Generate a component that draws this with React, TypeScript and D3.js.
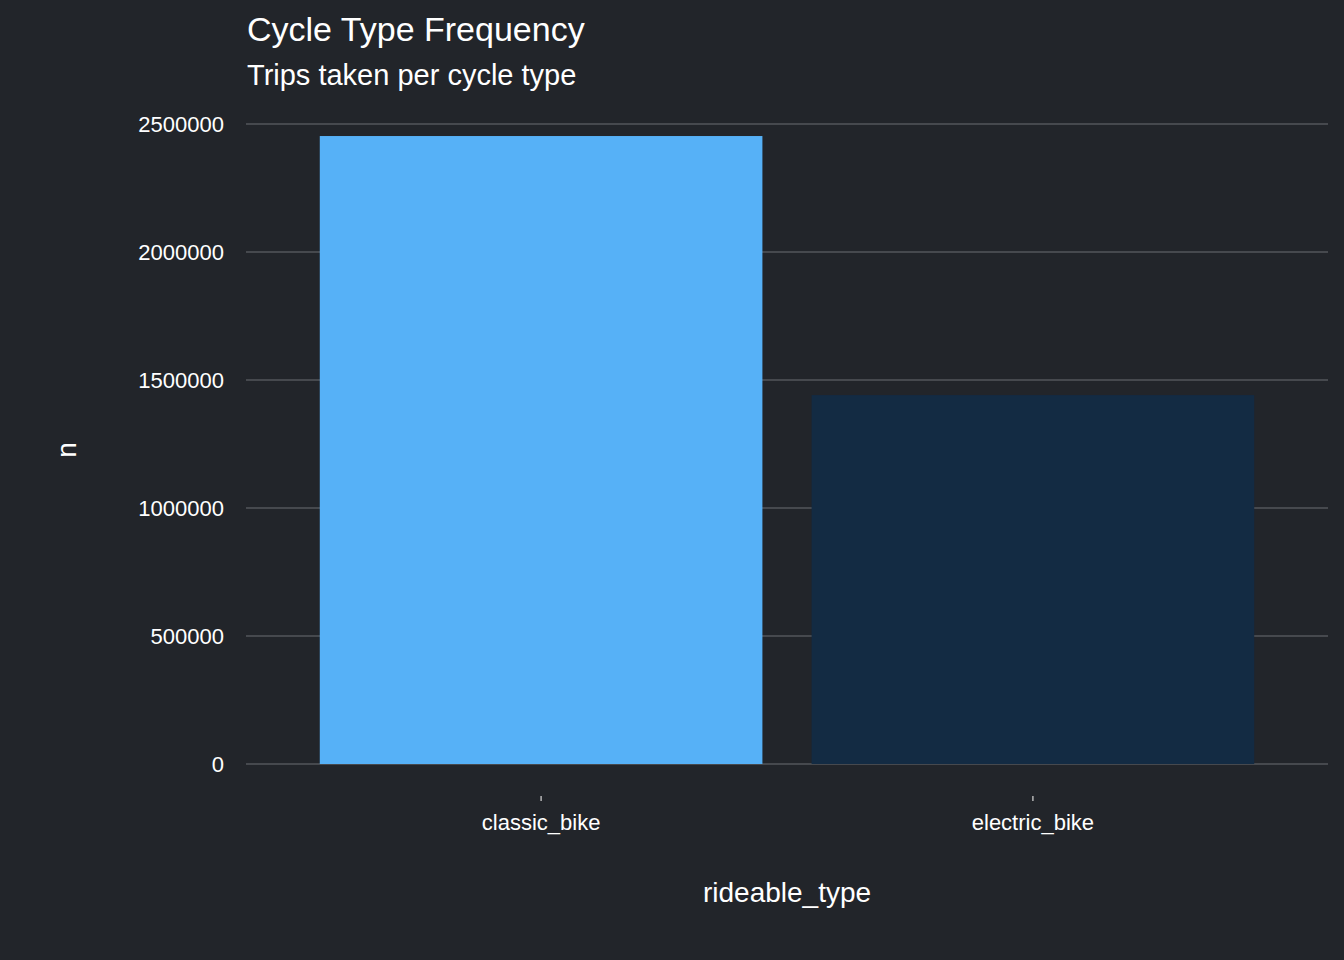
import * as d3 from "d3";
import { useEffect, useRef } from "react";

const categories = ["classic_bike", "electric_bike"];
const counts = [2453000, 1441000];
const barColors = ["#56b1f7", "#132b43"];
const yTicks = [0, 500000, 1000000, 1500000, 2000000, 2500000];

export default function App() {
  const ref = useRef<SVGSVGElement | null>(null);

  useEffect(() => {
    const width = 1344;
    const height = 960;
    const svg = d3.select(ref.current);
    svg.selectAll("*").remove();
    svg.attr("width", width).attr("height", height);

    const font = "Liberation Sans, Arial, sans-serif";
    const left = 246;
    const right = 1328;

    svg.append("rect").attr("width", width).attr("height", height).attr("fill", "#22252a");

    const y = d3.scaleLinear().domain([0, 2500000]).range([764, 124]);
    const x = d3
      .scaleBand<string>()
      .domain(categories)
      .range([left, right])
      .paddingInner(0.1)
      .paddingOuter(0.15);

    yTicks.forEach((t) => {
      svg
        .append("line")
        .attr("x1", left)
        .attr("x2", right)
        .attr("y1", y(t))
        .attr("y2", y(t))
        .attr("stroke", "#53565b")
        .attr("stroke-width", 1.3);
      svg
        .append("text")
        .attr("x", 224)
        .attr("y", y(t) + 8)
        .attr("text-anchor", "end")
        .attr("fill", "#ffffff")
        .style("font-family", font)
        .style("font-size", "22px")
        .text(String(t));
    });

    svg
      .selectAll("rect.bar")
      .data(categories)
      .enter()
      .append("rect")
      .attr("class", "bar")
      .attr("x", (d) => x(d)!)
      .attr("width", x.bandwidth())
      .attr("y", (_, i) => y(counts[i]))
      .attr("height", (_, i) => y(0) - y(counts[i]))
      .attr("fill", (_, i) => barColors[i]);

    categories.forEach((c) => {
      const cx = x(c)! + x.bandwidth() / 2;
      svg
        .append("line")
        .attr("x1", cx)
        .attr("x2", cx)
        .attr("y1", 796)
        .attr("y2", 801)
        .attr("stroke", "#cccccc")
        .attr("stroke-width", 1.3);
      svg
        .append("text")
        .attr("x", cx)
        .attr("y", 830)
        .attr("text-anchor", "middle")
        .attr("fill", "#ffffff")
        .style("font-family", font)
        .style("font-size", "22px")
        .text(c);
    });

    svg
      .append("text")
      .attr("x", 787)
      .attr("y", 902)
      .attr("text-anchor", "middle")
      .attr("fill", "#ffffff")
      .style("font-family", font)
      .style("font-size", "28px")
      .text("rideable_type");

    svg
      .append("text")
      .attr("transform", "translate(76,450) rotate(-90)")
      .attr("text-anchor", "middle")
      .attr("fill", "#ffffff")
      .style("font-family", font)
      .style("font-size", "28px")
      .text("n");

    svg
      .append("text")
      .attr("x", 247)
      .attr("y", 41)
      .attr("fill", "#ffffff")
      .style("font-family", font)
      .style("font-size", "34px")
      .text("Cycle Type Frequency");

    svg
      .append("text")
      .attr("x", 247)
      .attr("y", 85)
      .attr("fill", "#ffffff")
      .style("font-family", font)
      .style("font-size", "29px")
      .text("Trips taken per cycle type");
  }, []);

  return <svg ref={ref} style={{ position: "absolute", left: 0, top: 0 }}></svg>;
}
